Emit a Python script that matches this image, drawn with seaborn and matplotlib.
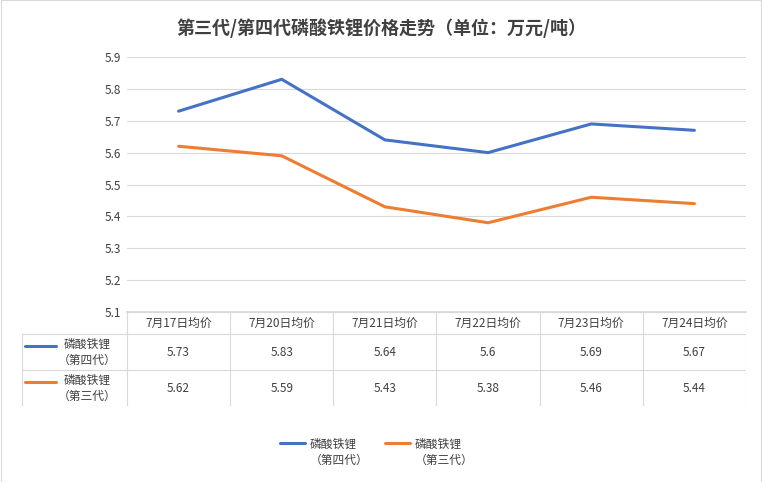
import matplotlib.pyplot as plt
import seaborn as sns
import pandas as pd

dates = ["7月17日均价", "7月20日均价", "7月21日均价", "7月22日均价", "7月23日均价", "7月24日均价"]
gen4 = [5.73, 5.83, 5.64, 5.6, 5.69, 5.67]
gen3 = [5.62, 5.59, 5.43, 5.38, 5.46, 5.44]
gen4_label = "磷酸铁锂\n（第四代）"
gen3_label = "磷酸铁锂\n（第三代）"
gen4_text = ["5.73", "5.83", "5.64", "5.6", "5.69", "5.67"]
gen3_text = ["5.62", "5.59", "5.43", "5.38", "5.46", "5.44"]

sns.set_theme(style="white")
plt.rcParams['font.family'] = ['Noto Sans CJK SC', 'DejaVu Sans']

BLUE = "#4472C4"
ORANGE = "#ED7D31"
GRID = "#D9D9D9"
TXT = "#404040"

W, H = 762, 482
fig = plt.figure(figsize=(W / 100, H / 100), dpi=100)

x0, x1, ytop, ybot = 127, 746, 57, 312
ax = fig.add_axes([x0 / W, 1 - ybot / H, (x1 - x0) / W, (ybot - ytop) / H])
df = pd.DataFrame({"x": list(range(6)) * 2, "y": gen4 + gen3,
                   "s": [gen4_label] * 6 + [gen3_label] * 6})
sns.lineplot(data=df, x="x", y="y", hue="s", palette=[BLUE, ORANGE], linewidth=2.2,
             ax=ax, legend=False)
ax.set_xlim(-0.5, 5.5)
ax.set_ylim(5.1, 5.9)
ax.set_yticks([5.1 + 0.1 * i for i in range(9)])
ax.set_yticklabels([f"{5.1 + 0.1 * i:.1f}" for i in range(9)], fontsize=8.5, color=TXT)
ax.set_xticks([])
ax.set_xlabel("")
ax.set_ylabel("")
ax.grid(axis="y", color=GRID, linewidth=0.8)
for s in ["top", "right", "left"]:
    ax.spines[s].set_visible(False)
ax.spines["bottom"].set_color(GRID)
ax.tick_params(axis="y", length=0, pad=4)

# data table
tl, tb = 22, 406
colw = (x1 - x0) / 6
lw = (x0 - tl) / colw
tax = fig.add_axes([tl / W, 1 - tb / H, (x1 - tl) / W, (tb - ybot) / H])
tax.set_xlim(-0.5 - lw, 5.5)
tax.set_ylim(tb - ybot, 0)
tax.axis("off")
rows = [0, 22, 58, 94]
for r in rows:
    xs = -0.5 if r == 0 else -0.5 - lw
    tax.plot([xs, 5.5], [r, r], color=GRID, lw=0.8)
for i in range(7):
    tax.plot([i - 0.5, i - 0.5], [0, 94], color=GRID, lw=0.8)
tax.plot([-0.5 - lw] * 2, [22, 94], color=GRID, lw=0.8)
for i, d in enumerate(dates):
    tax.text(i, 11, d, ha="center", va="center", fontsize=8.5, color=TXT)
for row, (lab, vals, c) in enumerate([(gen4_label, gen4_text, BLUE), (gen3_label, gen3_text, ORANGE)]):
    yc = 40 + 36 * row
    tax.plot([-0.5 - lw + 0.03, -0.5 - lw + 0.33], [yc - 6, yc - 6], color=c, lw=2.2)
    tax.text(-0.5 - lw * 0.38, yc, lab, ha="center", va="center", fontsize=8.5, color=TXT,
             linespacing=1.3)
    for i, v in enumerate(vals):
        tax.text(i, yc, v, ha="center", va="center", fontsize=8.5, color=TXT)

# legend
for lx, lab, c in [(280, gen4_label, BLUE), (385, gen3_label, ORANGE)]:
    fig.add_artist(plt.Line2D([lx / W, (lx + 25) / W], [1 - 443 / H] * 2, color=c, lw=2.2))
    fig.text((lx + 30) / W, 1 - 452 / H, lab, ha="left", va="center", fontsize=8.5,
             color=TXT, linespacing=1.3)

fig.text(0.5, 1 - 28 / H, "第三代/第四代磷酸铁锂价格走势（单位：万元/吨）", ha="center",
         va="center", fontsize=13, fontweight="bold", color=TXT)
fig.add_artist(plt.Rectangle((0.001, 0.001), 0.998, 0.998, fill=False, ec=GRID, lw=0.8,
                             transform=fig.transFigure))
fig.savefig("out.png", dpi=100)
